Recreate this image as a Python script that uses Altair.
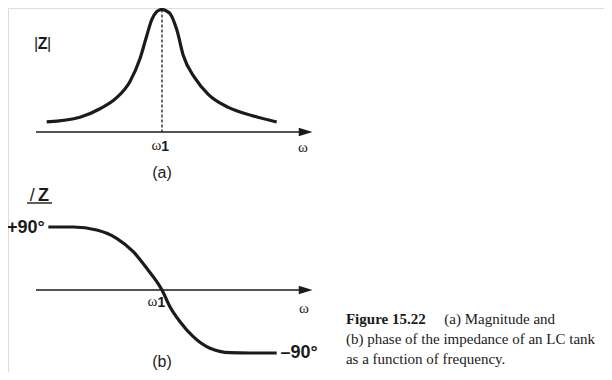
import altair as alt
import pandas as pd

# ---------------- data (ω normalised so that ω1 = 1) ----------------
mag_w = [0.085, 0.349, 0.508, 0.640, 0.746, 0.825, 0.879, 0.918, 0.958, 0.98, 1.0,
         1.02, 1.040, 1.063, 1.117, 1.169, 1.262, 1.367, 1.526, 1.712, 1.910]
mag_v = [0.082, 0.121, 0.190, 0.280, 0.413, 0.598, 0.786, 0.915, 0.982, 0.996, 1.0,
         0.996, 0.985, 0.968, 0.836, 0.624, 0.439, 0.307, 0.201, 0.135, 0.082]

ph_w = [0.098, 0.296, 0.482, 0.640, 0.772, 0.879, 1.0, 1.063, 1.143, 1.248,
        1.381, 1.54, 1.698, 1.910]
ph_v = [90, 90, 85.7, 73.9, 54.7, 31, 0, -23.9, -45.3, -66.7,
        -83.3, -89.6, -90, -90]

w1 = 1.0
axis_start, axis_end = 0.0, 2.14

caption_bold = "Figure 15.22"
caption_lines = ["(a) Magnitude and",
                 "(b) phase of the impedance of an LC tank",
                 "as a function of frequency."]

X_DOM = [-0.2222, 4.5079]
MAG_DOM = [-1.959, 1.0122]
PH_DOM = [-117.14, 402.86]

mag_df = pd.DataFrame({"w": mag_w, "v": mag_v})
ph_df = pd.DataFrame({"w": ph_w, "v": ph_v})

INK = "#1b1b1b"
SANS = "Liberation Sans"
SERIF = "Liberation Serif"
ARROW = "M-1,-0.6L1,0L-1,0.6Z"

xs = alt.Scale(domain=X_DOM, nice=False, zero=False)
ms = alt.Scale(domain=MAG_DOM, nice=False, zero=False)
ps = alt.Scale(domain=PH_DOM, nice=False, zero=False)

base = alt.Chart()


def panel(df, yscale, axis_y=0.0):
    curve = alt.Chart(df).mark_line(color=INK, strokeWidth=3.2, interpolate="monotone").encode(
        x=alt.X("w:Q", scale=xs, axis=None),
        y=alt.Y("v:Q", scale=yscale, axis=None),
    )
    axis_line = base.mark_rule(color=INK, strokeWidth=1.4).encode(
        x=alt.datum(axis_start, scale=xs), x2=alt.datum(axis_end),
        y=alt.datum(axis_y, scale=yscale),
    )
    arrow = base.mark_point(shape=ARROW, size=190, filled=True, color=INK, opacity=1).encode(
        x=alt.datum(axis_end, scale=xs), y=alt.datum(axis_y, scale=yscale),
    )
    return [curve, axis_line, arrow]


def label(text, xv, yv, yscale, font=SANS, size=14, weight="normal", style="normal",
          align="center", baseline="middle"):
    return base.mark_text(text=text, font=font, fontSize=size, fontWeight=weight,
                          fontStyle=style, align=align, baseline=baseline, color=INK).encode(
        x=alt.datum(xv, scale=xs), y=alt.datum(yv, scale=yscale))


# ---------------- magnitude panel ----------------
mag_layers = panel(mag_df, ms)
mag_layers.append(base.mark_rule(color=INK, strokeWidth=1.3, strokeDash=[3, 2]).encode(
    x=alt.datum(w1, scale=xs), y=alt.datum(1.0, scale=ms), y2=alt.datum(0.0)))
mag_layers += [
    label("|", 0.0, 0.722, ms, size=16),
    label("Z", 0.052, 0.722, ms, size=16, weight="bold"),
    label("|", 0.104, 0.722, ms, size=16),
    label("ω", 0.955, -0.11, ms, font=SERIF, size=15),
    label("1", 1.025, -0.125, ms, size=14, weight="bold"),
    label("ω", 2.119, -0.12, ms, font=SERIF, size=15),
    label("(a)", 1.0, -0.335, ms, size=16),
]
mag_chart = alt.layer(*mag_layers)

# ---------------- phase panel ----------------
ph_layers = panel(ph_df, ps)
ph_layers.append(base.mark_rule(color=INK, strokeWidth=1.4).encode(
    x=alt.datum(-0.071, scale=xs), x2=alt.datum(0.127), y=alt.datum(124.3, scale=ps)))
ph_layers += [
    label("/", -0.03, 134.3, ps, size=18),
    label("Z", 0.06, 134.3, ps, size=18, weight="bold"),
    label("+90°", 0.07, 88.6, ps, size=18, weight="bold", align="right"),
    label("–90°", 1.94, -90, ps, size=18, weight="bold", align="left"),
    label("ω", 0.925, -16, ps, font=SERIF, size=15),
    label("1", 0.995, -19, ps, size=14, weight="bold"),
    label("ω", 2.127, -26, ps, font=SERIF, size=15),
    label("(b)", 1.0, -103, ps, size=16),
    label(caption_bold, 2.46, -41.4, ps, font=SERIF, size=15, weight="bold", align="left"),
    label(caption_lines[0], 3.24, -41.4, ps, font=SERIF, size=15, align="left"),
    label(caption_lines[1], 2.46, -70.0, ps, font=SERIF, size=15, align="left"),
    label(caption_lines[2], 2.46, -98.6, ps, font=SERIF, size=15, align="left"),
]
ph_chart = alt.layer(*ph_layers)

chart = alt.layer(mag_chart, ph_chart).resolve_scale(y="independent").properties(
    width=596, height=364,
    autosize=alt.AutoSizeParams(type="none"),
    padding=0,
).configure_view(strokeWidth=0, stroke="transparent").configure(background="white")

chart.save("out.html", embed_options={"renderer": "svg", "actions": False})
